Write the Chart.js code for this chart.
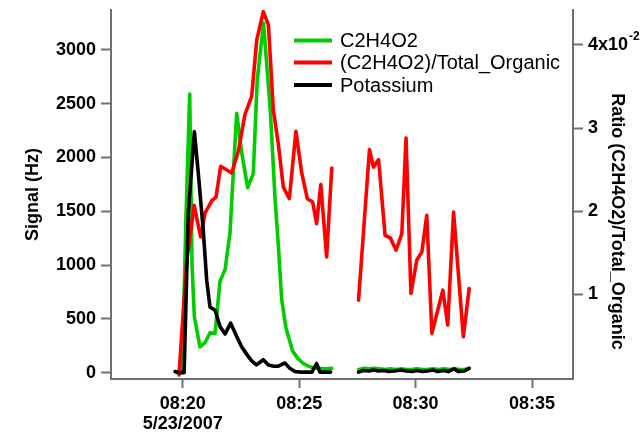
<!DOCTYPE html>
<html><head><meta charset="utf-8">
<script src="https://cdn.jsdelivr.net/npm/chart.js@4.4.1/dist/chart.umd.min.js"></script>
<style>html,body{margin:0;padding:0;background:#fff}#wrap{width:642px;height:434px}</style>
</head><body><div id="wrap"><canvas id="c" width="642" height="434"></canvas></div>
<script>
// Time in minutes after 08:00 on 5/23/2007
const dateLabel = '5/23/2007';
const seriesLabels = ['C2H4O2', '(C2H4O2)/Total_Organic', 'Potassium'];
const leftAxisTitle = 'Signal (Hz)';
const rightAxisTitle = 'Ratio (C2H4O2)/Total_Organic';

// C2H4O2 signal (Hz)
const greenTimes = [19.74,19.98,20.14,20.30,20.40,20.50,20.74,20.96,21.17,21.39,21.60,21.82,22.03,22.17,22.32,22.53,22.79,23.03,23.20,23.47,23.76,23.97,24.11,24.25,24.43,24.72,24.95,25.18,25.40,25.60,25.87,26.10,26.40,
  27.0,
  27.55,27.80,28.00,28.20,28.45,28.70,28.90,29.15,29.40,29.60,29.85,30.05,30.30,30.50,30.75,31.00,31.20,31.45,31.65,31.90,32.10,32.30];
const greenValues = [0,20,1450,2590,1000,520,240,280,370,365,850,960,1300,1850,2410,2050,1720,1850,2720,3250,2440,1600,1170,680,420,200,130,85,60,45,40,35,40,
  null,
  30,40,35,40,35,30,35,30,35,30,30,35,30,30,35,30,35,30,35,30,30,40];

// Ratio (C2H4O2)/Total_Organic
const redTimes = [19.84,20.17,20.49,20.77,20.96,21.26,21.43,21.63,22.10,22.39,22.67,22.96,23.18,23.46,23.68,23.89,24.10,24.32,24.58,24.86,25.11,25.35,25.58,25.75,25.93,26.18,26.40,
  27.0,
  27.55,28.02,28.19,28.41,28.69,28.91,29.16,29.41,29.59,29.80,30.05,30.27,30.48,30.70,31.17,31.38,31.63,32.05,32.30];
const redValues = [0.0003,0.0140,0.0207,0.0169,0.0198,0.0213,0.0217,0.0254,0.0246,0.0272,0.0316,0.0338,0.0406,0.0440,0.0424,0.0322,0.0282,0.0229,0.0215,0.0296,0.0246,0.0215,0.0211,0.0185,0.0232,0.0145,0.0252,
  null,
  0.0093,0.0274,0.0253,0.0262,0.0171,0.0168,0.0153,0.0173,0.0288,0.0101,0.0141,0.0151,0.0195,0.0053,0.0105,0.0063,0.0199,0.0049,0.0107];

// Potassium signal (Hz)
const blackTimes = [19.67,19.88,20.06,20.24,20.50,20.67,20.88,21.03,21.17,21.39,21.60,21.82,22.06,22.32,22.53,22.75,22.96,23.17,23.46,23.68,23.90,24.11,24.39,24.60,24.82,25.05,25.30,25.55,25.75,25.89,26.10,26.35,
  27.0,
  27.55,27.75,28.00,28.20,28.40,28.65,28.85,29.10,29.35,29.60,29.85,30.05,30.30,30.50,30.75,30.95,31.20,31.40,31.65,31.85,32.10,32.30];
const blackValues = [10,0,0,1480,2240,1850,1330,860,610,580,430,360,460,335,240,170,110,72,120,72,60,60,90,40,10,5,5,5,85,5,5,5,
  null,
  5,20,15,25,15,20,10,15,25,15,10,20,10,15,25,10,20,10,35,10,15,40];

const xTicks = [20, 25, 30, 35];
const leftTicks = [0, 500, 1000, 1500, 2000, 2500, 3000];
const rightTicks = [0.01, 0.02, 0.03, 0.04];

function pts(ts, vs) { return ts.map((t, i) => ({x: t, y: vs[i]})); }
function fmtTime(m) {
  const h = 8 + Math.floor(m / 60), mm = Math.round(m % 60);
  return String(h).padStart(2, '0') + ':' + String(mm).padStart(2, '0');
}

const FONT = "Arial, 'Liberation Sans', sans-serif";
const AXIS = '#707070';

const overlayPlugin = {
  id: 'overlay',
  afterDraw(chart) {
    const ctx = chart.ctx;
    ctx.save();
    // legend
    const rows = [40.5, 62.5, 85];
    chart.data.datasets.forEach((ds, i) => {
      ctx.strokeStyle = ds.borderColor;
      ctx.lineWidth = 4;
      ctx.beginPath();
      ctx.moveTo(294, rows[i]);
      ctx.lineTo(332, rows[i]);
      ctx.stroke();
      ctx.fillStyle = '#000';
      ctx.font = '20px ' + FONT;
      ctx.textAlign = 'left';
      ctx.textBaseline = 'middle';
      ctx.fillText(ds.label, 340, rows[i] + 1);
    });
    // right axis title
    ctx.translate(617, 221.5);
    ctx.rotate(Math.PI / 2);
    ctx.font = 'bold 18px ' + FONT;
    ctx.textAlign = 'center';
    ctx.textBaseline = 'middle';
    ctx.fillText(rightAxisTitle, 0, 0);
    ctx.restore();
    // superscript exponent for top right tick
    const y2 = chart.scales.y2;
    const py = y2.getPixelForValue(0.04);
    ctx.save();
    ctx.font = 'bold 18px ' + FONT;
    const w = ctx.measureText('4x10').width;
    ctx.font = 'bold 12px ' + FONT;
    ctx.fillStyle = '#000';
    ctx.textAlign = 'left';
    ctx.textBaseline = 'middle';
    ctx.fillText('-2', y2.left + 15 + w + 1, py - 8);
    ctx.restore();
  }
};

new Chart(document.getElementById('c'), {
  type: 'line',
  data: {
    datasets: [
      {label: seriesLabels[0], data: pts(greenTimes, greenValues), borderColor: '#00cc00', yAxisID: 'y', order: 2},
      {label: seriesLabels[1], data: pts(redTimes, redValues), borderColor: '#ff0000', yAxisID: 'y2', order: 1},
      {label: seriesLabels[2], data: pts(blackTimes, blackValues), borderColor: '#000000', yAxisID: 'y', order: 0}
    ]
  },
  options: {
    responsive: false,
    animation: false,
    devicePixelRatio: 1,
    layout: {padding: {top: 10, left: 0, right: 0, bottom: 0}},
    elements: {
      line: {borderWidth: 3.6, tension: 0, borderCapStyle: 'round', borderJoinStyle: 'round'},
      point: {radius: 0}
    },
    plugins: {legend: {display: false}, tooltip: {enabled: false}},
    scales: {
      x: {
        type: 'linear', position: 'bottom', min: 16.92, max: 36.76,
        afterBuildTicks: s => { s.ticks = xTicks.map(v => ({value: v})); },
        ticks: {
          color: '#000', font: {family: FONT, size: 18, weight: 'bold', lineHeight: 1.1}, padding: 6,
          maxRotation: 0, autoSkip: false,
          callback: v => v === xTicks[0] ? [fmtTime(v), dateLabel] : fmtTime(v)
        },
        grid: {drawOnChartArea: false, drawTicks: true, tickLength: 9, tickColor: AXIS, tickWidth: 2},
        border: {display: true, color: AXIS, width: 2},
        afterFit: s => { s.height = 55; s.paddingLeft = 0; s.paddingRight = 0; s.paddingTop = 0; s.paddingBottom = 0; }
      },
      y: {
        type: 'linear', position: 'left', min: -59, max: 3371,
        afterBuildTicks: s => { s.ticks = leftTicks.map(v => ({value: v})); },
        ticks: {color: '#000', font: {family: FONT, size: 18, weight: 'bold'}, padding: 5, autoSkip: false,
          callback: v => String(v)},
        grid: {drawOnChartArea: false, drawTicks: true, tickLength: 10, tickColor: AXIS, tickWidth: 2},
        border: {display: true, color: AXIS, width: 2},
        title: {display: true, text: leftAxisTitle, color: '#000', font: {family: FONT, size: 18, weight: 'bold'}, padding: {top: 22, bottom: 0}},
        afterFit: s => { s.width = 111; s.paddingTop = 0; s.paddingBottom = 0; s.paddingLeft = 0; s.paddingRight = 0; }
      },
      y2: {
        type: 'linear', position: 'right', min: -0.00019, max: 0.0442,
        afterBuildTicks: s => { s.ticks = rightTicks.map(v => ({value: v})); },
        ticks: {
          color: '#000', font: {family: FONT, size: 18, weight: 'bold'}, padding: 5, autoSkip: false,
          callback: v => { const n = Math.round(v * 100); return n === 4 ? '4x10' : String(n); }
        },
        grid: {drawOnChartArea: false, drawTicks: true, tickLength: 10, tickColor: AXIS, tickWidth: 2},
        border: {display: true, color: AXIS, width: 2},
        afterFit: s => { s.width = 69; s.paddingTop = 0; s.paddingBottom = 0; s.paddingLeft = 0; s.paddingRight = 0; }
      }
    }
  },
  plugins: [overlayPlugin]
});
</script>
</body></html>
